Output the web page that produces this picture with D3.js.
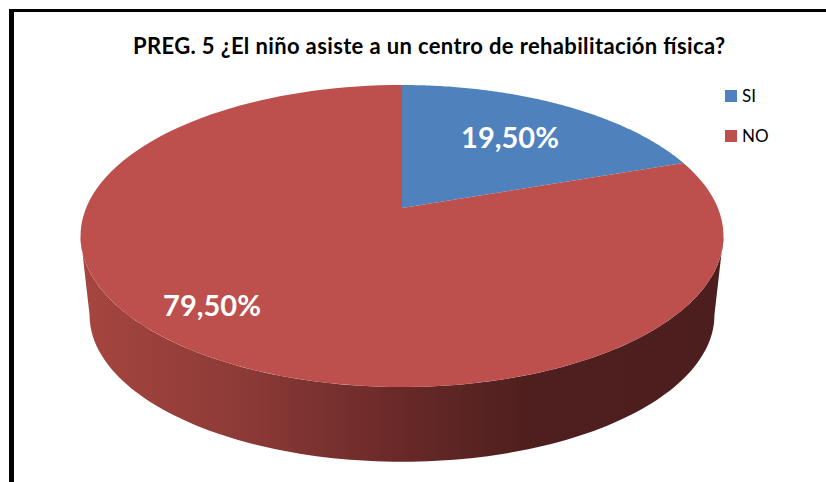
<!DOCTYPE html>
<html>
<head>
<meta charset="utf-8">
<script src="https://cdn.jsdelivr.net/npm/d3@7"></script>
<style>
html, body { margin: 0; padding: 0; background: #fff; }
svg { display: block; }
text { font-family: Lato, "Open Sans", sans-serif; }
</style>
</head>
<body>
<svg id="viz"></svg>
<script>
const titulo = "PREG. 5 ¿El niño asiste a un centro de rehabilitación física?";
const categorias = ["SI", "NO"];
const valores = [19.5, 79.5];
const etiquetas = ["19,50%", "79,50%"];
const colores = ["#4f81bd", "#bd4f4c"];

const width = 826;
const height = 482;

// perspectiva del disco: k acerca la parte de abajo
const k = -0.1854;
const cx = 402;
const topDisc = { y0: 208, a: 315.9, b: 145.8 };
const baseDisc = { y0: 287.8, a: 307, b: 141.7 };

const proyectar = (disc, ang, r = 1) => {
    const u = Math.sin(ang) * r;
    const v = -Math.cos(ang) * r;
    const w = 1 + k * v;
    return [cx + disc.a * u / w, disc.y0 + disc.b * v / w];
};

const svg = d3.select("#viz").attr("width", width).attr("height", height);
const color = d3.scaleOrdinal().domain(categorias).range(colores);
const linea = d3.line();

const arcos = d3.pie().sort(null).value(d => d.valor)(
    categorias.map((c, i) => ({ categoria: c, valor: valores[i], etiqueta: etiquetas[i] }))
);

const puntosArco = (disc, a0, a1) => d3.range(0, 121).map(i => proyectar(disc, a0 + (a1 - a0) * i / 120));

// degradado de la pared lateral
const defs = svg.append("defs");
const grad = defs.append("linearGradient").attr("id", "pared")
    .attr("gradientUnits", "userSpaceOnUse")
    .attr("x1", 85).attr("x2", 720).attr("y1", 0).attr("y2", 0);
grad.selectAll("stop")
    .data([[0, "#a6453f"], [0.25, "#8c3a37"], [0.5, "#682928"], [0.7, "#4e1f1e"], [1, "#4c1e1d"]])
    .join("stop")
    .attr("offset", d => d[0])
    .attr("stop-color", d => d[1]);

// la pared visible va entre las dos tangentes del disco
const tangente = Math.acos(k);
const paredIni = tangente;
const paredFin = 2 * Math.PI - tangente;

arcos.forEach(d => {
    const a0 = Math.max(d.startAngle, paredIni);
    const a1 = Math.min(d.endAngle, paredFin);
    if (a1 <= a0) return;
    const pts = puntosArco(topDisc, a0, a1).concat(puntosArco(baseDisc, a0, a1).reverse());
    svg.append("path")
        .attr("d", linea(pts) + "Z")
        .attr("fill", "url(#pared)");
});

// sectores de arriba
svg.selectAll(".sector")
    .data(arcos)
    .join("path")
    .attr("class", "sector")
    .attr("fill", d => color(d.data.categoria))
    .attr("d", d => linea([[cx, topDisc.y0]].concat(puntosArco(topDisc, d.startAngle, d.endAngle))) + "Z");

// etiquetas dentro del sector
const posEtiqueta = d3.scaleOrdinal().domain(categorias).range([[510, 138], [212, 306]]);
svg.selectAll(".etiqueta")
    .data(arcos)
    .join("text")
    .attr("class", "etiqueta")
    .attr("x", d => posEtiqueta(d.data.categoria)[0])
    .attr("y", d => posEtiqueta(d.data.categoria)[1])
    .attr("dy", "0.35em")
    .attr("text-anchor", "middle")
    .attr("fill", "#fff")
    .attr("font-weight", 700)
    .attr("font-size", 29)
    .text(d => d.data.etiqueta);

// titulo
svg.append("text")
    .attr("x", 429)
    .attr("y", 46)
    .attr("dy", "0.35em")
    .attr("text-anchor", "middle")
    .attr("font-weight", 700)
    .attr("font-size", 22)
    .attr("textLength", 592)
    .attr("fill", "#000")
    .text(titulo);

// leyenda
const yLeyenda = d3.scalePoint().domain(categorias).range([96, 136]);
const leyenda = svg.selectAll(".leyenda")
    .data(categorias)
    .join("g")
    .attr("class", "leyenda")
    .attr("transform", d => `translate(725,${yLeyenda(d)})`);
leyenda.append("rect")
    .attr("y", -6).attr("width", 12).attr("height", 12)
    .attr("fill", d => color(d));
leyenda.append("text")
    .attr("x", 17)
    .attr("dy", "0.35em")
    .attr("font-size", 17)
    .attr("fill", "#000")
    .text(d => d);

// marco negro
svg.append("path")
    .attr("d", "M826,10.5H11.5V482")
    .attr("fill", "none")
    .attr("stroke", "#000")
    .attr("stroke-width", 3);
svg.append("rect").attr("x", 9).attr("y", 9).attr("width", 5).attr("height", 473).attr("fill", "#000");
</script>
</body>
</html>
